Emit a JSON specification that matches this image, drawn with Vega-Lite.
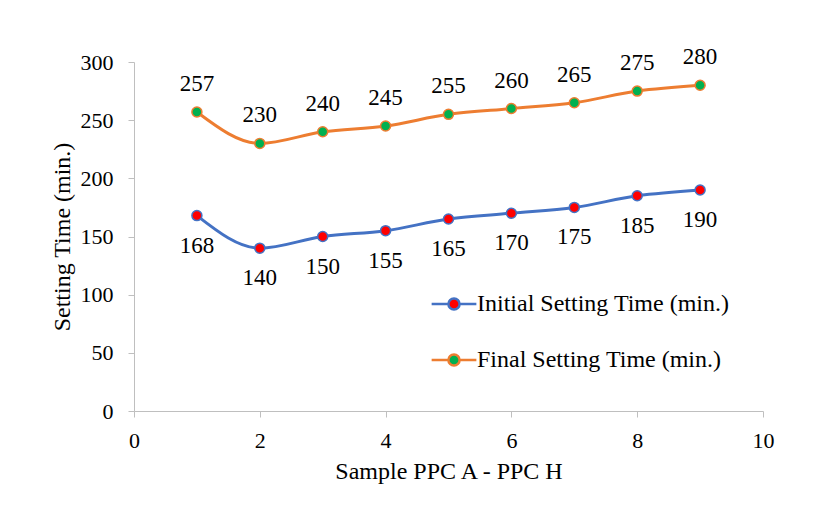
{
  "$schema": "https://vega.github.io/schema/vega-lite/v6.json",
  "width": 629,
  "height": 349,
  "autosize": {"type": "none"},
  "padding": {"left": 134, "top": 62, "right": 67, "bottom": 103},
  "background": "white",
  "config": {
    "view": {"stroke": null},
    "font": "'Liberation Serif', serif",
    "axis": {
      "grid": false,
      "labelFlush": false,
      "domainColor": "#bfbfbf",
      "tickColor": "#bfbfbf",
      "tickSize": 6,
      "labelFont": "'Liberation Serif', serif",
      "labelFontSize": 22,
      "labelColor": "#000000",
      "titleFont": "'Liberation Serif', serif",
      "titleFontSize": 24,
      "titleFontWeight": "normal",
      "titleColor": "#000000"
    }
  },
  "data": {
    "values": [
      {"x": 1, "series": "Initial Setting Time (min.)", "v": 168},
      {"x": 2, "series": "Initial Setting Time (min.)", "v": 140},
      {"x": 3, "series": "Initial Setting Time (min.)", "v": 150},
      {"x": 4, "series": "Initial Setting Time (min.)", "v": 155},
      {"x": 5, "series": "Initial Setting Time (min.)", "v": 165},
      {"x": 6, "series": "Initial Setting Time (min.)", "v": 170},
      {"x": 7, "series": "Initial Setting Time (min.)", "v": 175},
      {"x": 8, "series": "Initial Setting Time (min.)", "v": 185},
      {"x": 9, "series": "Initial Setting Time (min.)", "v": 190},
      {"x": 1, "series": "Final Setting Time (min.)", "v": 257},
      {"x": 2, "series": "Final Setting Time (min.)", "v": 230},
      {"x": 3, "series": "Final Setting Time (min.)", "v": 240},
      {"x": 4, "series": "Final Setting Time (min.)", "v": 245},
      {"x": 5, "series": "Final Setting Time (min.)", "v": 255},
      {"x": 6, "series": "Final Setting Time (min.)", "v": 260},
      {"x": 7, "series": "Final Setting Time (min.)", "v": 265},
      {"x": 8, "series": "Final Setting Time (min.)", "v": 275},
      {"x": 9, "series": "Final Setting Time (min.)", "v": 280}
    ]
  },
  "encoding": {
    "x": {
      "field": "x", "type": "quantitative",
      "scale": {"domain": [0, 10], "nice": false, "zero": false},
      "axis": {"values": [0, 2, 4, 6, 8, 10], "labelFlush": false, "labelPadding": 13, "titlePadding": 8, "title": "Sample PPC A - PPC H"}
    },
    "y": {
      "field": "v", "type": "quantitative",
      "scale": {"domain": [0, 300], "nice": false},
      "axis": {"values": [0, 50, 100, 150, 200, 250, 300], "labelFlush": false, "labelPadding": 15, "titlePadding": 6, "title": "Setting Time (min.)"}
    }
  },
  "layer": [
    {
      "mark": {"type": "line", "interpolate": "monotone", "strokeWidth": 3},
      "encoding": {
        "stroke": {
          "field": "series", "type": "nominal",
          "scale": {"domain": ["Initial Setting Time (min.)", "Final Setting Time (min.)"], "range": ["#4472C4", "#ED7D31"]},
          "legend": {
            "orient": "none", "legendX": 308, "legendY": 230, "title": null,
            "symbolType": "M-4,0L-1,0M1,0A1,1 0 1 1 -1,0A1,1 0 1 1 1,0M1,0L4,0",
            "symbolSize": 125, "symbolStrokeWidth": 2.5,
            "labelFont": "'Liberation Serif', serif", "labelFontSize": 24, "labelColor": "#000000", "labelLimit": 400,
            "rowPadding": 32, "labelOffset": 11, "symbolOffset": 0
          }
        },
        "detail": {"field": "series"}
      }
    },
    {
      "mark": {"type": "point", "filled": true, "size": 100, "strokeWidth": 1.5, "opacity": 1},
      "encoding": {
        "stroke": {"field": "series", "type": "nominal"},
        "fill": {
          "field": "series", "type": "nominal",
          "scale": {"domain": ["Initial Setting Time (min.)", "Final Setting Time (min.)"], "range": ["#FF0000", "#00B050"]},
          "legend": {
            "orient": "none", "legendX": 308, "legendY": 230, "title": null,
            "symbolType": "M-4,0L-1,0M1,0A1,1 0 1 1 -1,0A1,1 0 1 1 1,0M1,0L4,0",
            "symbolSize": 125, "symbolStrokeWidth": 2.5,
            "labelFont": "'Liberation Serif', serif", "labelFontSize": 24, "labelColor": "#000000", "labelLimit": 400,
            "rowPadding": 32, "labelOffset": 11, "symbolOffset": 0
          }
        }
      }
    },
    {
      "transform": [{"filter": "datum.series === 'Final Setting Time (min.)'"}],
      "mark": {"type": "text", "dy": -28, "fontSize": 23, "font": "'Liberation Serif', serif", "color": "#000000"},
      "encoding": {"text": {"field": "v", "type": "quantitative"}}
    },
    {
      "transform": [{"filter": "datum.series === 'Initial Setting Time (min.)'"}],
      "mark": {"type": "text", "dy": 30, "fontSize": 23, "font": "'Liberation Serif', serif", "color": "#000000"},
      "encoding": {"text": {"field": "v", "type": "quantitative"}}
    }
  ]
}
